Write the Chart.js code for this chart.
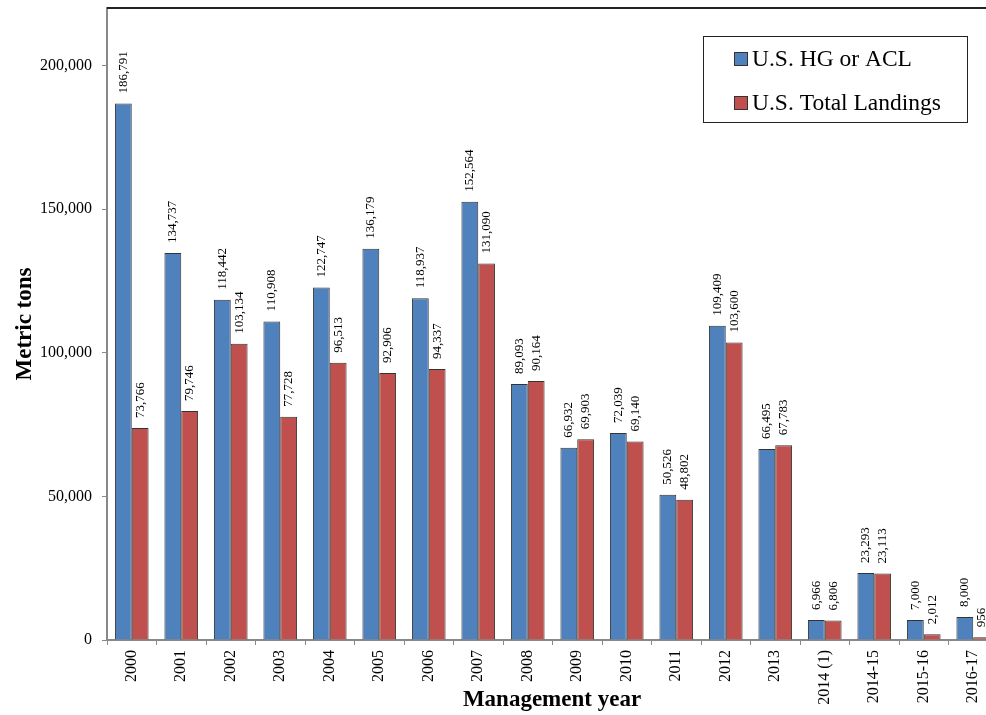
<!DOCTYPE html>
<html>
<head>
<meta charset="utf-8">
<script src="https://cdn.jsdelivr.net/npm/chart.js@4/dist/chart.umd.min.js"></script>
<style>
  body { margin: 0; background: #fff; }
  #wrap { width: 986px; height: 715px; overflow: hidden; }
</style>
</head>
<body>
<div id="wrap"><canvas id="chart" width="1000" height="715"></canvas></div>
<script>
// --- data ---
const years = ['2000','2001','2002','2003','2004','2005','2006','2007','2008','2009',
               '2010','2011','2012','2013','2014 (1)','2014-15','2015-16','2016-17'];
const hgAcl = [186791, 134737, 118442, 110908, 122747, 136179, 118937, 152564, 89093, 66932,
               72039, 50526, 109409, 66495, 6966, 23293, 7000, 8000];
const totalLandings = [73766, 79746, 103134, 77728, 96513, 92906, 94337, 131090, 90164, 69903,
                       69140, 48802, 103600, 67783, 6806, 23113, 2012, 956];
const yTicks = [0, 50000, 100000, 150000, 200000];

const SERIF = '"Liberation Serif", "Times New Roman", serif';
const BLUE = '#4F81BD';
const RED = '#C0504D';
const fmt = v => v.toLocaleString('en-US');

// value labels above bars, rotated
const barLabels = {
    id: 'barLabels',
    afterDatasetsDraw(chart) {
        const ctx = chart.ctx;
        ctx.save();
        ctx.font = '13px ' + SERIF;
        ctx.fillStyle = '#000';
        ctx.textAlign = 'left';
        ctx.textBaseline = 'middle';
        chart.data.datasets.forEach((ds, i) => {
            chart.getDatasetMeta(i).data.forEach((bar, j) => {
                ctx.save();
                ctx.translate(bar.x, bar.y - 10);
                ctx.rotate(-Math.PI / 2);
                ctx.fillText(fmt(ds.data[j]), 0, 0);
                ctx.restore();
            });
        });
        ctx.restore();
    }
};

// frame, titles and legend box
const extras = {
    id: 'extras',
    afterDraw(chart) {
        const ctx = chart.ctx;
        const a = chart.chartArea;
        ctx.save();
        // top border
        ctx.strokeStyle = '#222';
        ctx.lineWidth = 2;
        ctx.beginPath();
        ctx.moveTo(a.left, a.top);
        ctx.lineTo(a.right, a.top);
        ctx.stroke();

        // axis titles
        ctx.fillStyle = '#000';
        ctx.font = 'bold 23px ' + SERIF;
        ctx.textAlign = 'center';
        ctx.textBaseline = 'alphabetic';
        ctx.fillText('Management year', 552, 706);
        ctx.save();
        ctx.translate(31, 324);
        ctx.rotate(-Math.PI / 2);
        ctx.fillText('Metric tons', 0, 0);
        ctx.restore();

        // legend
        ctx.fillStyle = '#fff';
        ctx.fillRect(703, 36, 264, 86);
        ctx.strokeStyle = '#222';
        ctx.lineWidth = 1;
        ctx.strokeRect(703.5, 36.5, 264, 86);
        const items = [[BLUE, 'U.S. HG or ACL', 66], [RED, 'U.S. Total Landings', 110]];
        ctx.font = '23.5px ' + SERIF;
        ctx.textAlign = 'left';
        items.forEach(([c, t, base]) => {
            ctx.fillStyle = c;
            ctx.fillRect(734, base - 14, 14, 14);
            ctx.strokeStyle = '#333';
            ctx.strokeRect(734.5, base - 13.5, 13, 13);
            ctx.fillStyle = '#000';
            ctx.fillText(t, 752, base);
        });
        ctx.restore();
    }
};

new Chart(document.getElementById('chart'), {
    type: 'bar',
    data: {
        labels: years,
        datasets: [
            { label: 'U.S. HG or ACL', data: hgAcl, backgroundColor: BLUE, borderColor: '#333', borderWidth: 1 },
            { label: 'U.S. Total Landings', data: totalLandings, backgroundColor: RED, borderColor: '#333', borderWidth: 1 }
        ]
    },
    options: {
        responsive: false,
        animation: false,
        layout: { padding: { top: 8, right: 2, left: 0, bottom: 0 } },
        datasets: { bar: { categoryPercentage: 0.68, barPercentage: 1.0 } },
        plugins: { legend: { display: false }, tooltip: { enabled: false } },
        scales: {
            x: {
                offset: true,
                grid: { offset: true, drawOnChartArea: false, drawTicks: true, tickLength: 5, color: '#888' },
                border: { color: '#888', width: 2 },
                ticks: {
                    autoSkip: false, minRotation: 90, maxRotation: 90, padding: 5,
                    color: '#000', font: { family: SERIF, size: 16 }
                },
                afterFit(scale) { scale.height = 75; scale.paddingLeft = 0; scale.paddingRight = 0; }
            },
            y: {
                min: 0,
                max: 220000,
                grid: { drawOnChartArea: false, drawTicks: true, tickLength: 5, color: '#888' },
                border: { color: '#888', width: 2 },
                ticks: {
                    padding: 10, color: '#000',
                    font: { family: SERIF, size: 16 },
                    callback: v => fmt(v)
                },
                afterBuildTicks(scale) { scale.ticks = yTicks.map(v => ({ value: v })); },
                afterFit(scale) { scale.width = 107; scale.paddingTop = 0; scale.paddingBottom = 0; }
            }
        }
    },
    plugins: [barLabels, extras]
});
</script>
</body>
</html>
